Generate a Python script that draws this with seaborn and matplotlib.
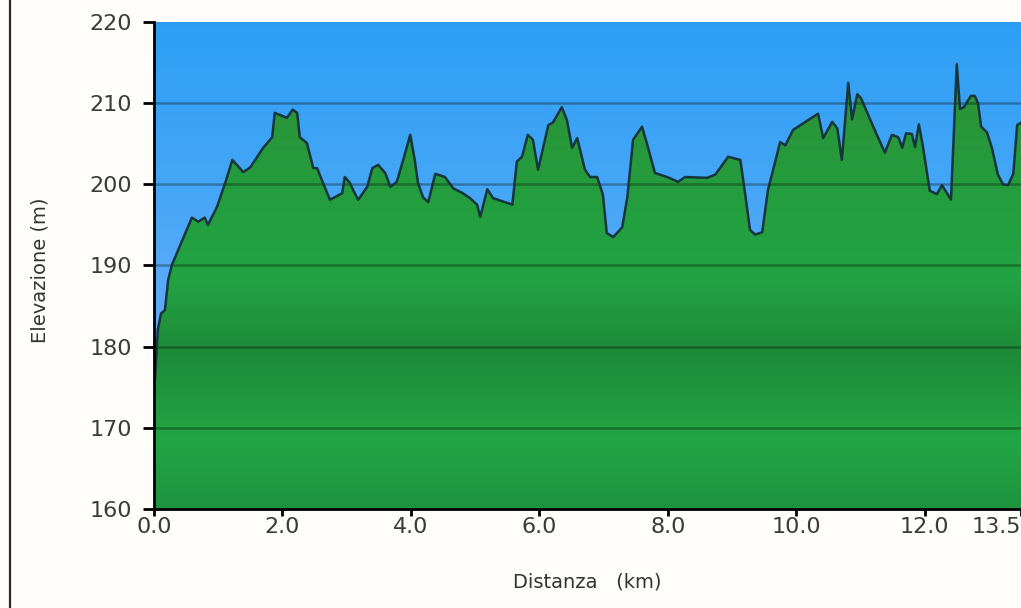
import numpy as np
import pandas as pd
import matplotlib
matplotlib.use("Agg")
import matplotlib.pyplot as plt
import seaborn as sns
from matplotlib.colors import LinearSegmentedColormap
from matplotlib.lines import Line2D

# ---------------- data ----------------
distance_km = [
    0.0, 0.06, 0.11, 0.17, 0.22, 0.28, 0.44, 0.59, 0.69, 0.79, 0.84, 0.98,
    1.11, 1.22, 1.29, 1.39, 1.50, 1.70, 1.84, 1.88, 2.07, 2.16, 2.23, 2.27,
    2.38, 2.48, 2.54, 2.63, 2.74, 2.93, 2.97, 3.05, 3.10, 3.18, 3.32, 3.40,
    3.49, 3.60, 3.68, 3.78, 3.88, 3.99, 4.06, 4.11, 4.19, 4.27, 4.38, 4.53,
    4.66, 4.81, 4.92, 5.03, 5.08, 5.19, 5.28, 5.47, 5.58, 5.65, 5.73, 5.82,
    5.90, 5.98, 6.14, 6.21, 6.35, 6.43, 6.51, 6.59, 6.71, 6.79, 6.90, 6.99,
    7.05, 7.15, 7.29, 7.37, 7.46, 7.60, 7.69, 7.80, 7.99, 8.16, 8.27, 8.61,
    8.74, 8.94, 9.13, 9.20, 9.28, 9.36, 9.47, 9.56, 9.75, 9.83, 9.95, 10.34,
    10.42, 10.56, 10.64, 10.71, 10.81, 10.87, 10.95, 11.01, 11.20, 11.38,
    11.49, 11.59, 11.65, 11.71, 11.80, 11.85, 11.91, 11.97, 12.08, 12.19,
    12.27, 12.41, 12.50, 12.55, 12.61, 12.72, 12.78, 12.83, 12.88, 12.97,
    13.05, 13.14, 13.22, 13.30, 13.38, 13.44, 13.50,
]
elevation_m = [
    174.0, 182.1, 184.1, 184.5, 188.2, 190.1, 193.1, 195.9, 195.4, 195.9, 195.0, 197.2,
    200.2, 203.0, 202.4, 201.5, 202.1, 204.5, 205.8, 208.8, 208.2, 209.2, 208.8, 205.8,
    205.1, 202.0, 202.0, 200.2, 198.1, 198.9, 200.9, 200.2, 199.3, 198.1, 199.7, 202.0,
    202.4, 201.4, 199.7, 200.3, 203.0, 206.1, 203.0, 200.2, 198.4, 197.8, 201.3, 200.9,
    199.5, 198.9, 198.3, 197.5, 196.0, 199.4, 198.3, 197.8, 197.5, 202.8, 203.4, 206.1,
    205.5, 201.8, 207.3, 207.6, 209.5, 207.9, 204.5, 205.7, 201.8, 200.9, 200.9, 198.7,
    194.0, 193.5, 194.7, 198.4, 205.5, 207.1, 204.6, 201.4, 200.9, 200.3, 200.9, 200.8,
    201.2, 203.4, 203.0, 199.1, 194.4, 193.8, 194.1, 199.3, 205.2, 204.8, 206.7, 208.7,
    205.7, 207.7, 206.9, 203.0, 212.5, 208.0, 211.1, 210.6, 207.1, 203.9,
    206.1, 205.8, 204.5, 206.3, 206.2, 204.6, 207.4, 204.8, 199.2, 198.8,
    199.9, 198.1, 214.8, 209.3, 209.5, 210.9, 210.9, 210.0, 207.1, 206.4,
    204.4, 201.2, 200.0, 199.9, 201.3, 207.3, 207.6,
]
x_ticks = [0.0, 2.0, 4.0, 6.0, 8.0, 10.0, 12.0, 13.5]
x_tick_labels = ["0.0", "2.0", "4.0", "6.0", "8.0", "10.0", "12.0", "13.5"]
y_ticks = [160, 170, 180, 190, 200, 210, 220]
y_tick_labels = ["160", "170", "180", "190", "200", "210", "220"]
x_label = "Distanza   (km)"
y_label = "Elevazione (m)"

df = pd.DataFrame({"km": distance_km, "elev": elevation_m})

# ---------------- style ----------------
sns.set_theme(style="white")
plt.rcParams["font.family"] = ["DejaVu Sans"]

W, H = 1021, 608
fig = plt.figure(figsize=(W / 100, H / 100), dpi=100, facecolor="#fefdfa")
ax = fig.add_axes([154 / W, 1 - 509 / H, 867 / W, 487 / H])
ax.set_xlim(x_ticks[0], x_ticks[-1])
ax.set_ylim(y_ticks[0], y_ticks[-1])

grad = np.linspace(0, 1, 256).reshape(-1, 1)

# sky gradient (bottom -> top)
sky = LinearSegmentedColormap.from_list("sky", ["#92b2fb", "#66abf9", "#45a6f7", "#2c9ff5"])
ax.imshow(grad, extent=[x_ticks[0], x_ticks[-1], y_ticks[0], y_ticks[-1]],
          origin="lower", cmap=sky, aspect="auto", zorder=0, interpolation="bicubic")

# terrain fill with gradient clipped to profile polygon
poly = ax.fill_between(df["km"], df["elev"], y_ticks[0], color="none", lw=0, zorder=1)
green = LinearSegmentedColormap.from_list(
    "terrain",
    [(0.0, "#1e9440"), (0.15, "#22a645"), (0.35, "#1e8a38"),
     (0.52, "#22a444"), (0.72, "#249d3e"), (1.0, "#2d9036")])
img = ax.imshow(grad, extent=[x_ticks[0], x_ticks[-1], y_ticks[0], 215],
                origin="lower", cmap=green, aspect="auto", zorder=1, interpolation="bicubic")
img.set_clip_path(poly.get_paths()[0], transform=ax.transData)

# horizontal grid lines
for yv in y_ticks[1:-1]:
    ax.axhline(yv, color="black", alpha=0.3, lw=1.8, zorder=2)

# profile outline
sns.lineplot(data=df, x="km", y="elev", ax=ax, color="#16363c", lw=1.8,
             estimator=None, sort=False, zorder=4)

# spines
for s in ["top", "right"]:
    ax.spines[s].set_visible(False)
for s in ["left", "bottom"]:
    ax.spines[s].set_visible(True)
    ax.spines[s].set_color("black")
    ax.spines[s].set_linewidth(2)
    ax.spines[s].set_zorder(5)

ax.set_xticks(x_ticks)
ax.set_xticklabels(x_tick_labels)
ax.set_yticks(y_ticks)
ax.set_yticklabels(y_tick_labels)
ax.tick_params(axis="y", direction="out", length=8, width=2, color="black",
               labelsize=16, labelcolor="#3a3a3a", pad=8, left=True)
ax.tick_params(axis="x", direction="out", length=5, width=2, color="black",
               labelsize=16, labelcolor="#3a3a3a", pad=0.5, bottom=True)
ax.get_xticklabels()[-1].set_horizontalalignment("right")

ax.set_xlabel(x_label, fontsize=14, color="#333333")
ax.set_ylabel(y_label, fontsize=14, color="#333333")
ax.xaxis.set_label_coords(0.5, (509 - 573) / 487)
ax.yaxis.set_label_coords((49 - 154) / 867, 0.49)

# left frame line of the original screenshot
fig.add_artist(Line2D([10 / W, 10 / W], [0, 1], transform=fig.transFigure,
                      color="#2a2a2a", lw=1.6))

fig.savefig("out.png", dpi=100, facecolor=fig.get_facecolor())
